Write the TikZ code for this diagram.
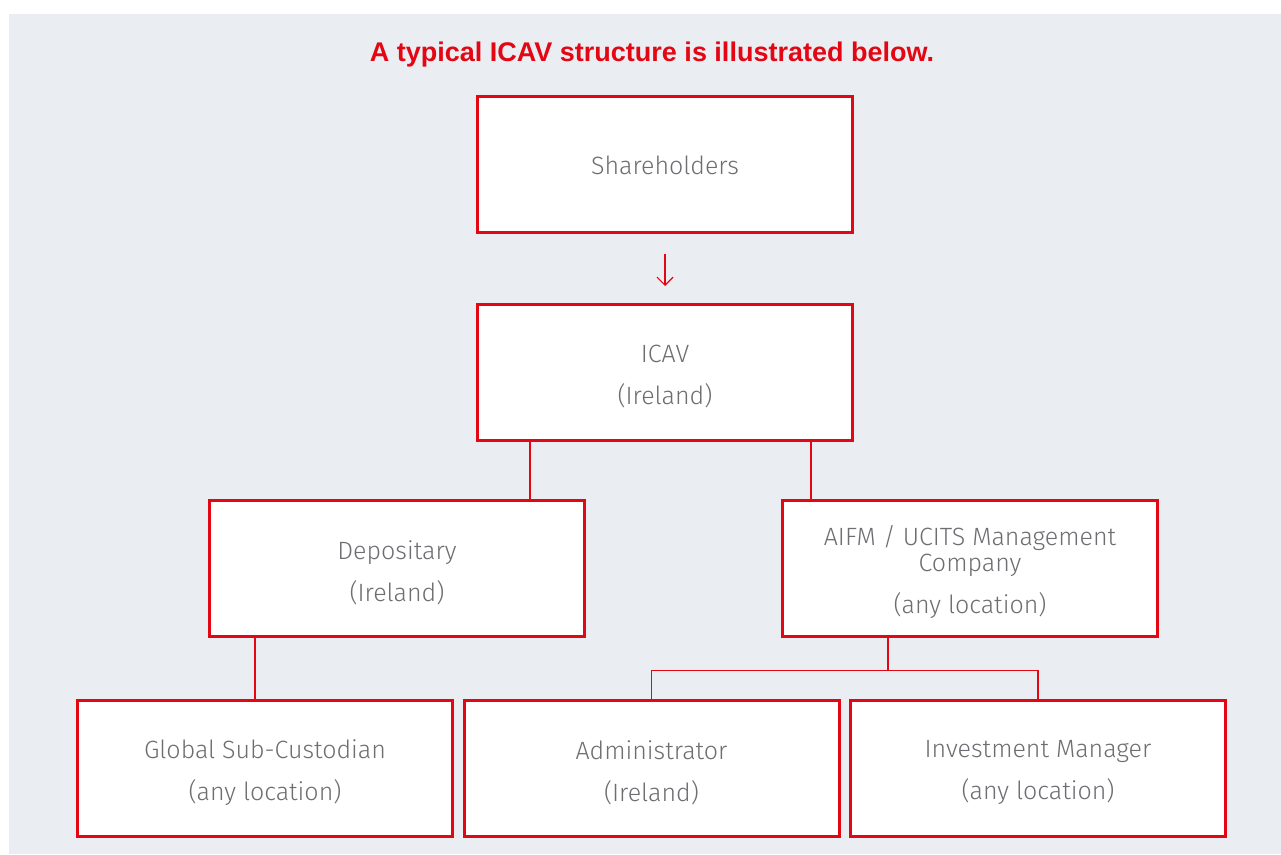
\documentclass[tikz,border=0pt]{standalone}
\usepackage{fontspec}
\setmainfont{Fira Sans Light}
\newfontfamily\titlefont{Liberation Sans}
\usetikzlibrary{arrows.meta}
\definecolor{bg}{HTML}{EAEDF2}
\definecolor{icred}{HTML}{E30613}
\definecolor{txtgray}{HTML}{6D6E71}
\tikzset{
  box/.style={draw=icred, line width=3pt, fill=white, minimum width=375pt, minimum height=136pt,
    inner sep=0pt},
  lbl/.style={yshift=-4pt, inner sep=0pt, align=center, text=txtgray, font=\fontsize{25}{42}\selectfont},
  conn/.style={draw=icred, line width=1.3pt},
}
\begin{document}
\begin{tikzpicture}[x=1pt,y=-1pt]
\useasboundingbox (0,0) rectangle (1281,854);
\fill[white] (0,0) rectangle (1281,854);
\fill[bg] (9,14) rectangle (1281,854);
\node[text=icred, font=\titlefont\bfseries\fontsize{27}{30}\selectfont] (title) at (652,55) {A typical ICAV structure is illustrated below.};
\node[box, label={[lbl, yshift=3pt]center:Shareholders}] (sh) at (665,164.5) {};
\node[box, label={[lbl]center:{ICAV\\(Ireland)}}] (icav) at (665,372.5) {};
\node[box, label={[lbl]center:{Depositary\\(Ireland)}}] (dep) at (397,568.5) {};
\node[box, label={[lbl]center:{AIFM / UCITS Management\\[-16pt]Company\\(any location)}}] (aifm) at (970,568.5) {};
\node[box, label={[lbl]center:{Global Sub-Custodian\\(any location)}}] (gsc) at (265,768.5) {};
\node[box, label={[lbl]center:{Administrator\\(Ireland)}}] (adm) at (651.5,768.5) {};
\node[box, label={[lbl]center:{Investment Manager\\(any location)}}] (im) at (1038,768.5) {};
\draw[conn, -{Straight Barb[length=8pt,width=16pt,line width=1.2pt]}] ([yshift=-19.5pt]sh.south) -- ([yshift=17pt]icav.north);
\draw[conn] ([xshift=-135pt]icav.south) -- ([xshift=133pt]dep.north);
\draw[conn] ([xshift=146pt]icav.south) -- ([xshift=-159pt]aifm.north);
\draw[conn] ([xshift=-142pt]dep.south) -- ([xshift=-10pt]gsc.north);
\draw[conn] ([xshift=-82pt]aifm.south) -- ++(0,32.5) coordinate (j);
\draw[conn] (adm.north) |- (j) -| (im.north);
\end{tikzpicture}
\end{document}
